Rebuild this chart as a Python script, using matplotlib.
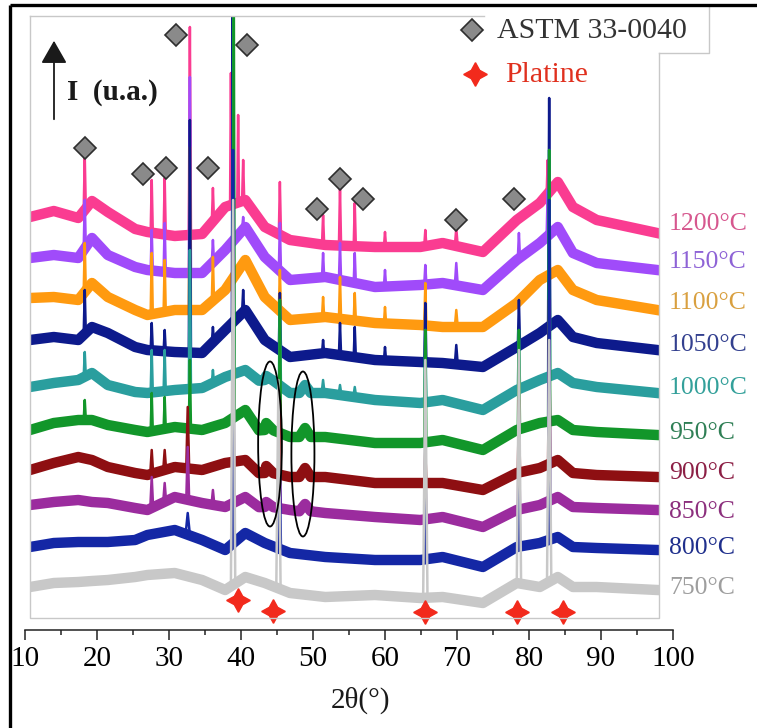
import numpy as np
import matplotlib.pyplot as plt
from matplotlib.patches import Ellipse

plt.rcParams['font.family'] = ['Liberation Serif', 'DejaVu Serif']

# 2theta positions where the background of every pattern was read
knots = [10.7, 14, 17.4, 19.3, 21.5, 25.3, 27, 30.8, 34.6, 37.8, 40.6, 43.3,
         46.8, 51.7, 58.6, 64.9, 68, 73.6, 78.3, 81.5, 84, 86.1, 89.4, 97.8]

temps = ['1200°C', '1150°C', '1100°C', '1050°C', '1000°C',
         '950°C', '900°C', '850°C', '800°C', '750°C']

# stacked background intensity (u.a.) at the knots
bg_1200 = [401, 407, 400, 417, 406, 389, 386, 382, 384, 411, 418, 391, 378, 373, 371, 371, 375, 366, 398, 415, 436, 411, 398, 385]
bg_1150 = [360, 363, 360, 380, 363, 351, 348, 345, 345, 368, 391, 361, 338, 341, 331, 333, 335, 328, 358, 375, 391, 365, 355, 348]
bg_1100 = [320, 321, 318, 335, 321, 308, 303, 308, 308, 328, 358, 321, 298, 301, 295, 293, 291, 291, 315, 338, 348, 328, 318, 308]
bg_1050 = [278, 281, 278, 291, 285, 271, 268, 266, 265, 288, 308, 278, 261, 265, 258, 256, 255, 251, 271, 285, 298, 281, 275, 268]
bg_1000 = [231, 235, 238, 245, 233, 226, 225, 228, 230, 241, 248, 238, 225, 225, 218, 215, 218, 208, 228, 238, 245, 235, 231, 225]
bg_950 = [188, 195, 198, 198, 193, 188, 186, 191, 188, 195, 208, 188, 181, 181, 175, 175, 178, 168, 188, 195, 198, 188, 186, 183]
bg_900 = [148, 155, 161, 158, 151, 145, 143, 151, 148, 155, 158, 145, 141, 141, 135, 135, 135, 128, 145, 150, 158, 145, 143, 141]
bg_850 = [113, 116, 118, 116, 115, 110, 108, 121, 115, 111, 121, 111, 108, 105, 101, 98, 101, 91, 108, 113, 121, 111, 110, 108]
bg_800 = [71, 75, 76, 76, 76, 78, 83, 88, 78, 68, 85, 75, 65, 61, 58, 58, 61, 51, 71, 75, 81, 71, 70, 68]
bg_750 = [31, 35, 36, 37, 38, 41, 43, 45, 38, 28, 41, 35, 25, 21, 23, 20, 21, 15, 35, 31, 41, 31, 31, 28]

# peaks: (2theta, top intensity, half width)
pk_1200 = [(18.3, 461, .15), (27.6, 438, .15), (29.4, 440, .15), (32.9, 591, .15),
           (36.1, 430, .15), (38.6, 545, .12), (39.6, 503, .12), (40.3, 458, .15),
           (45.4, 436, .15), (51.4, 403, .15), (53.75, 430, .15), (55.8, 415, .15),
           (60.0, 386, .15), (65.6, 388, .15), (69.9, 390, .2), (82.6, 458, .15)]
pk_1150 = [(18.3, 418, .15), (27.6, 388, .15), (29.4, 395, .15), (32.9, 541, .15),
           (36.1, 378, .15), (38.9, 540, .12), (40.3, 401, .15), (45.4, 395, .15),
           (51.4, 365, .15), (53.75, 375, .15), (55.8, 365, .15), (60.0, 348, .15),
           (65.6, 353, .15), (69.9, 355, .2), (78.6, 385, .15), (82.6, 428, .15)]
pk_1100 = [(18.3, 375, .15), (27.6, 365, .15), (29.4, 358, .15), (32.9, 471, .15),
           (36.1, 361, .15), (38.9, 558, .12), (45.4, 348, .15), (51.4, 321, .15),
           (53.75, 341, .15), (55.8, 325, .15), (60.0, 311, .15), (65.6, 335, .15),
           (69.9, 308, .2), (78.6, 318, .15)]
pk_1050 = [(18.3, 328, .15), (27.6, 295, .15), (29.4, 288, .15), (32.9, 498, .15),
           (36.1, 291, .15), (38.85, 640, .12), (40.3, 328, .15), (45.4, 325, .15),
           (51.4, 278, .15), (53.75, 295, .15), (55.8, 291, .15), (60.0, 271, .15),
           (65.6, 315, .15), (69.9, 273, .2), (78.6, 318, .15), (82.8, 520, .15)]
pk_1000 = [(18.3, 266, .15), (27.6, 268, .15), (29.4, 268, .15), (32.9, 368, .15),
           (36.1, 248, .15), (38.95, 640, .12), (43.5, 242, 1.0), (45.4, 318, .15),
           (48.9, 233, .8), (51.4, 238, .2), (53.75, 233, .2), (55.8, 231, .2),
           (65.6, 288, .15), (78.6, 288, .15), (82.8, 468, .15)]
pk_950 = [(18.3, 218, .15), (27.6, 225, .15), (29.4, 221, .15), (32.9, 258, .15),
          (39.0, 640, .12), (43.5, 195, 1.0), (45.4, 318, .15), (48.9, 190, .8),
          (65.6, 288, .15), (78.6, 288, .15), (82.8, 468, .15)]
pk_900 = [(27.6, 168, .2), (29.4, 168, .2), (32.6, 211, .2), (38.9, 368, .12),
          (43.5, 152, 1.0), (45.4, 218, .15), (48.9, 150, .8), (65.6, 168, .15),
          (78.6, 218, .15), (82.8, 318, .15)]
pk_850 = [(27.6, 141, .2), (29.4, 135, .2), (32.6, 171, .2), (36.1, 128, .2),
          (38.9, 368, .12), (43.5, 116, 1.0), (45.4, 145, .15), (48.9, 114, .8),
          (65.6, 148, .15), (78.6, 198, .15), (82.8, 318, .15)]
pk_800 = [(32.6, 105, .3), (38.9, 468, .15), (45.4, 141, .15), (65.6, 178, .15),
          (78.6, 198, .15), (82.8, 418, .15)]
pk_750 = [(38.9, 418, .3), (45.2, 238, .3), (65.6, 258, .3), (78.6, 268, .3),
          (82.8, 278, .3)]

backgrounds = [bg_1200, bg_1150, bg_1100, bg_1050, bg_1000, bg_950, bg_900, bg_850, bg_800, bg_750]
peaks = [pk_1200, pk_1150, pk_1100, pk_1050, pk_1000, pk_950, pk_900, pk_850, pk_800, pk_750]

line_colors = ['#FA3C91', '#A04BFA', '#FF9A10', '#0D1A8C', '#2A9E9E',
               '#12962A', '#8E0F12', '#9B2C9E', '#1427A5', '#C8C8C8']
label_colors = ['#D6578E', '#8E63D6', '#D9A040', '#33408F', '#33A09A',
                '#2F7F55', '#8C1F45', '#8C2F7D', '#1F2F8C', '#9E9E9E']

# ASTM 33-0040 reference marks and platinum marks (2theta, intensity)
astm_marks = [(18.33, 470), (26.39, 444), (29.58, 450), (30.97, 583), (35.42, 450),
              (40.83, 573), (50.56, 409), (53.75, 439), (56.94, 419), (69.86, 398),
              (77.92, 419)]
pt_marks = [(39.58, 18), (44.44, 7), (65.56, 6), (78.33, 6), (84.72, 6)]


def profile(bg, pks):
    xs = list(knots)
    ys = list(bg)
    for pos, top, hw in pks:
        base = np.interp(pos, knots, bg)
        xs += [pos - hw, pos, pos + hw]
        ys += [base, top, base]
    order = np.argsort(xs, kind='stable')
    return np.array(xs)[order], np.array(ys)[order]


W, H = 757, 728
fig = plt.figure(figsize=(W / 100, H / 100), dpi=100)

# main data area (light grey frame drawn separately)
ax = fig.add_axes([30 / W, 1 - 618 / H, 629 / W, 602 / H])
ax.set_xlim(10 + 5 / 7.2, 10 + 634 / 7.2)
ax.set_ylim(0, 602)
ax.axis('off')

z = 2
for bg, pks, c in zip(backgrounds, peaks, line_colors):
    bx, by = profile(bg, [p for p in pks if p[2] >= 0.5])
    ax.plot(bx, by, color=c, lw=7.5, solid_joinstyle='round', zorder=z)
    px, py = profile(bg, pks)
    ax.plot(px, py, color=c, lw=1.8, zorder=z + 0.5)
    z += 1

for x, y in astm_marks:
    ax.plot(x, y, marker='D', ms=11.5, mfc='#8A8A8A', mec='#2E2E2E', mew=1.2,
            clip_on=False, zorder=30)
for x, y in pt_marks:
    ax.plot(x, y, marker=(4, 1, 0), ms=17, color='#F22A1C', mec='#F22A1C',
            clip_on=False, zorder=30)

# ellipses around the weak 43-49 degree features
ax.add_patch(Ellipse((44.03, 174), 3.3, 165, fill=False, ec='black', lw=1.3, zorder=31))
ax.add_patch(Ellipse((48.6, 164), 3.2, 165, fill=False, ec='black', lw=1.3, zorder=31))

# separate 2theta axis below the frame
ax2 = fig.add_axes([25 / W, 1 - 630 / H, 648 / W, 0.001])
ax2.set_xlim(10, 100)
ax2.set_xticks(np.arange(10, 101, 10))
ax2.set_xticks(np.arange(15, 100, 10), minor=True)
ax2.set_yticks([])
for s in ['top', 'left', 'right']:
    ax2.spines[s].set_visible(False)
ax2.spines['bottom'].set_linewidth(1.1)
ax2.spines['bottom'].set_color('#222222')
ax2.patch.set_visible(False)
ax2.tick_params(axis='x', which='major', direction='out', length=7.2, width=1.1,
                color='#222222', labelsize=21, pad=4)
ax2.tick_params(axis='x', which='minor', direction='out', length=3.6, width=1.1,
                color='#222222')

# overlay in pixel coordinates for the decorations
ov = fig.add_axes([0, 0, 1, 1])
ov.set_xlim(0, W)
ov.set_ylim(H, 0)
ov.axis('off')
ov.patch.set_visible(False)

frame = '#C8C8C8'
ov.plot([30, 30, 659, 659], [16, 618, 618, 53], color=frame, lw=1.0)
ov.plot([30, 484], [16, 16], color=frame, lw=1.0)
ov.plot([659, 709, 709], [53, 53, 5], color=frame, lw=1.0)
ov.plot([10, 10], [H, 5], color='black', lw=2.4, solid_capstyle='butt')
ov.plot([10, W], [5, 5], color='black', lw=2.4, solid_capstyle='butt')

# legend
ov.plot(472, 30, marker='D', ms=11.5, mfc='#8A8A8A', mec='#2E2E2E', mew=1.2)
ov.text(497, 31, 'ASTM 33-0040', fontsize=21.5, color='#333333', va='center', ha='left')
ov.plot(475, 74, marker=(4, 1, 0), ms=17, color='#F22A1C', mec='#F22A1C')
ov.text(505, 75, 'Platine', fontsize=21.5, color='#E0301E', va='center', ha='left')

# intensity arrow
ov.annotate('', xy=(54, 38), xytext=(54, 122),
            arrowprops=dict(arrowstyle='-|>,head_length=0.7,head_width=0.4',
                            lw=1.3, color='#1A1A1A', mutation_scale=20))
ov.text(67, 92, 'I  (u.a.)', fontsize=21, fontweight='bold', color='#1A1A1A',
        va='center', ha='left')

label_y = [224, 262, 303, 345, 388, 433, 473, 512, 548, 588]
for t, yl, c in zip(temps, label_y, label_colors):
    ov.text(669, yl, t, fontsize=18.5, color=c, va='center', ha='left')

ov.text(360, 700, '2θ(°)', fontsize=21, color='#1A1A1A', va='center', ha='center')

fig.savefig('out.png', dpi=100)
